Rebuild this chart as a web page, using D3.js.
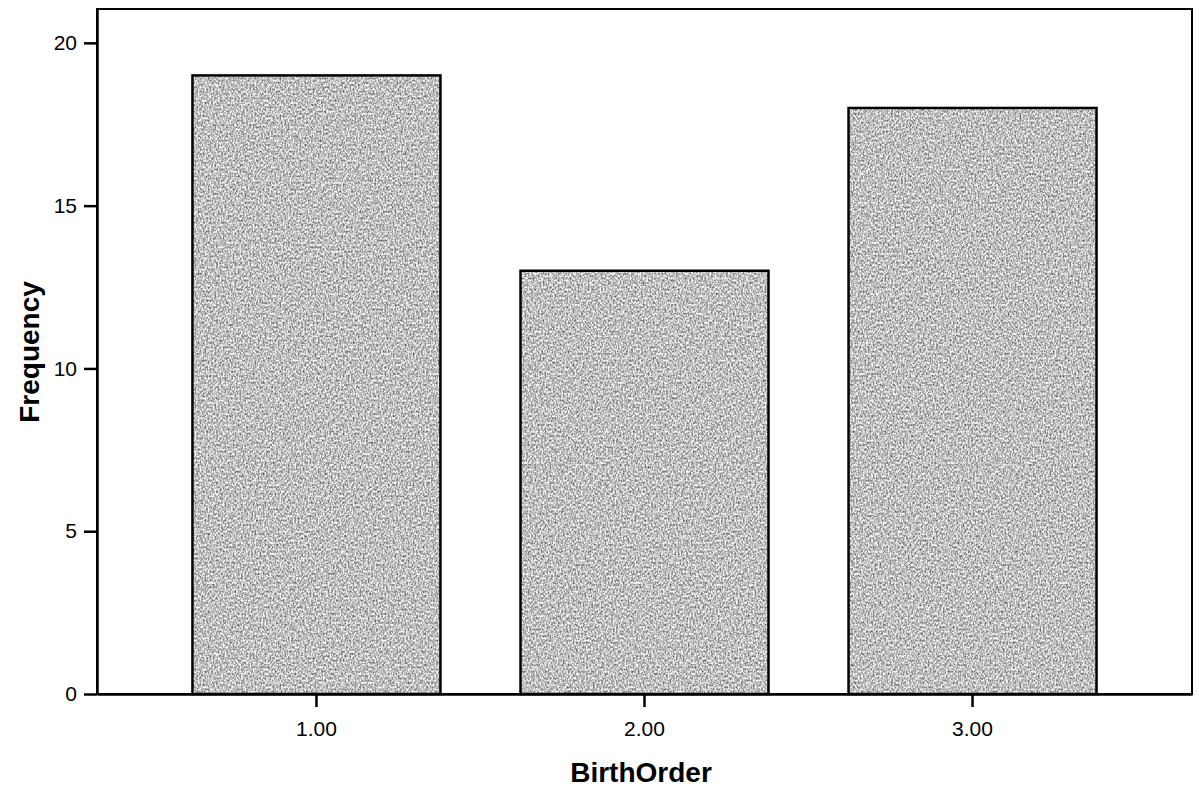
<!DOCTYPE html>
<html><head><meta charset="utf-8">
<script src="https://cdn.jsdelivr.net/npm/d3@7"></script>
<style>html,body{margin:0;padding:0;background:#fff}svg{display:block}</style>
</head><body>
<svg id="chart" width="1199" height="791"></svg>
<script>
const categories = ["1.00", "2.00", "3.00"];
const frequencies = [19, 13, 18];
const yTicks = [0, 5, 10, 15, 20];
const xTitle = "BirthOrder";
const yTitle = "Frequency";

const svg = d3.select("#chart");
const m = {left: 97, right: 7, top: 9, bottom: 97};
const W = 1199, H = 791;
const x0 = m.left, x1 = W - m.right, y0 = H - m.bottom, y1 = m.top;

const x = d3.scaleBand().domain(categories).range([x0, x1]).paddingInner(0.244).paddingOuter(0.291);
const y = d3.scaleLinear().domain([0, 21.04]).range([y0, y1]);

const defs = svg.append("defs");
const f = defs.append("filter").attr("id", "grain").attr("x", 0).attr("y", 0).attr("width", 1).attr("height", 1)
  .attr("color-interpolation-filters", "sRGB");
f.append("feTurbulence").attr("type", "fractalNoise").attr("baseFrequency", "0.6 0.45").attr("numOctaves", 2).attr("seed", 5).attr("result", "n");
f.append("feColorMatrix").attr("in", "n").attr("type", "matrix")
  .attr("values", "1.1 0 0 0 0.2  1.1 0 0 0 0.2  1.1 0 0 0 0.2  0 0 0 0 1").attr("result", "g");
f.append("feComposite").attr("in", "g").attr("in2", "SourceGraphic").attr("operator", "in");

// frame
svg.append("rect").attr("x", x0).attr("y", y1).attr("width", x1 - x0).attr("height", y0 - y1)
  .attr("fill", "#fff").attr("stroke", "#000").attr("stroke-width", 2);

const data = categories.map((c, i) => ({c, v: frequencies[i]}));
svg.append("g").selectAll("rect").data(data).enter().append("rect")
  .attr("x", d => x(d.c)).attr("y", d => y(d.v))
  .attr("width", x.bandwidth()).attr("height", d => y(0) - y(d.v))
  .attr("fill", "#bbbbbb").attr("filter", "url(#grain)");
svg.append("g").selectAll("rect").data(data).enter().append("rect")
  .attr("x", d => x(d.c)).attr("y", d => y(d.v))
  .attr("width", x.bandwidth()).attr("height", d => y(0) - y(d.v))
  .attr("fill", "none").attr("stroke", "#000").attr("stroke-width", 2.5);

// axes
const yAxis = svg.append("g").attr("transform", `translate(${x0},0)`)
  .call(d3.axisLeft(y).tickValues(yTicks).tickSizeInner(13).tickSizeOuter(0).tickPadding(7).tickFormat(d3.format("d")));
const xAxis = svg.append("g").attr("transform", `translate(0,${y0})`)
  .call(d3.axisBottom(x).tickSizeInner(13).tickSizeOuter(0).tickPadding(14));
[yAxis, xAxis].forEach(a => {
  a.select(".domain").attr("stroke", "#000").attr("stroke-width", 2.5);
  a.selectAll(".tick line").attr("stroke", "#000").attr("stroke-width", 2.5);
  a.selectAll(".tick text").attr("fill", "#000").style("font-family", "Liberation Sans, Arial, sans-serif").style("font-size", "21px");
});

svg.append("text").attr("x", 641).attr("y", 782).attr("text-anchor", "middle")
  .style("font-family", "Liberation Sans, Arial, sans-serif").style("font-size", "28px").style("font-weight", "bold")
  .text(xTitle);
svg.append("text").attr("transform", "translate(39,352) rotate(-90)").attr("text-anchor", "middle")
  .style("font-family", "Liberation Sans, Arial, sans-serif").style("font-size", "28px").style("font-weight", "bold")
  .text(yTitle);
</script>
</body></html>
